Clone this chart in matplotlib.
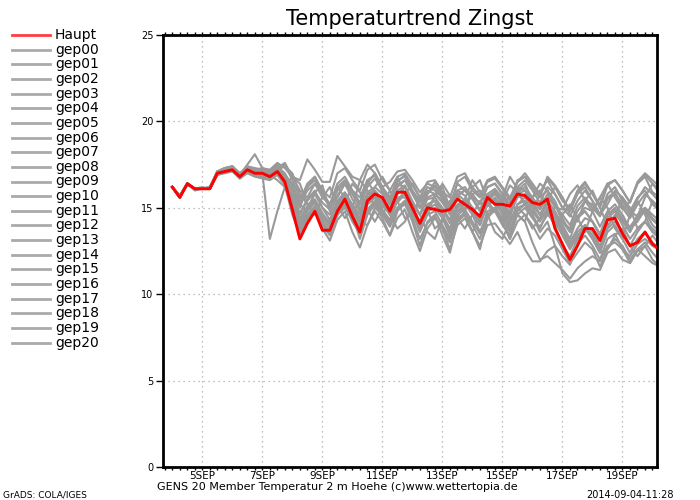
import numpy as np
import matplotlib.pyplot as plt
from matplotlib.lines import Line2D
from matplotlib.ticker import MultipleLocator

plt.rcParams['font.family'] = ['DejaVu Sans']

# 6-hourly steps from 2014-09-04 00Z, in days
steps = np.arange(66) * 0.25

day_ticks = [1, 3, 5, 7, 9, 11, 13, 15]
day_labels = ['5SEP', '7SEP', '9SEP', '11SEP', '13SEP', '15SEP', '17SEP', '19SEP']
y_ticks = [0, 5, 10, 15, 20, 25]

# control run
haupt = [16.2, 15.6, 16.4, 16.1, 16.1, 16.1, 17.0, 17.1, 17.2, 16.8, 17.2, 17.0, 17.0,
         16.8, 17.1, 16.5, 14.9, 13.2, 14.1, 14.8, 13.7, 13.7, 14.8, 15.5, 14.5, 13.6,
         15.4, 15.8, 15.6, 14.8, 15.9, 15.9, 15.0, 14.1, 15.0, 14.9, 14.8, 14.9, 15.5,
         15.2, 14.9, 14.5, 15.6, 15.2, 15.2, 15.1, 15.8, 15.7, 15.3, 15.2, 15.5, 13.8,
         12.9, 12.0, 12.8, 13.8, 13.8, 13.1, 14.3, 14.4, 13.5, 12.8, 13.0, 13.6, 12.9, 12.6]

# ensemble members gep00 .. gep20
gep = [
    [16.2, 15.6, 16.4, 16.1, 16.1, 16.1, 17.1, 17.2, 17.3, 16.9, 17.3, 17.1, 17.1,
     17.0, 17.3, 16.9, 15.5, 14.0, 14.8, 15.3, 14.5, 14.2, 15.3, 15.8, 15.0, 14.3, 15.8, 16.0,
     15.5, 15.0, 15.8, 16.2, 15.3, 14.6, 15.5, 15.6, 15.0, 14.3, 15.8, 15.4, 15.0, 14.2, 15.4, 15.8,
     15.2, 14.4, 15.9, 16.2, 15.6, 15.0, 15.8, 15.2, 14.2, 13.6, 14.5, 15.0, 14.8, 13.9, 14.8, 15.2,
     14.6, 13.8, 14.2, 14.9, 14.3, 13.9],
    [16.2, 15.7, 16.4, 16.1, 16.1, 16.2, 17.0, 17.2, 17.4, 16.9, 17.4, 17.2, 17.3,
     17.2, 17.6, 17.3, 16.8, 16.6, 17.8, 17.2, 16.5, 16.5, 18.0, 17.4, 16.8, 16.6, 17.5, 17.0,
     16.2, 16.5, 17.1, 17.2, 16.6, 15.9, 16.4, 16.2, 15.7, 15.2, 16.4, 16.0, 15.6, 15.3, 16.2, 16.4,
     15.8, 15.0, 16.2, 16.0, 15.2, 14.6, 15.4, 14.8, 14.0, 13.2, 14.5, 14.8, 14.2, 13.5, 14.6, 14.9,
     14.3, 13.9, 14.5, 15.0, 14.4, 14.0],
    [16.2, 15.6, 16.3, 16.1, 16.1, 16.1, 17.0, 17.1, 17.2, 16.8, 17.2, 17.0, 17.0,
     13.2, 14.8, 16.2, 15.8, 15.0, 16.2, 16.6, 15.8, 15.2, 16.4, 16.8, 16.0, 15.3, 16.2, 16.7,
     16.0, 15.5, 16.3, 16.6, 15.9, 15.3, 16.0, 15.8, 15.3, 14.6, 15.7, 16.0, 15.5, 14.8, 15.5, 15.9,
     15.4, 14.7, 15.8, 16.0, 15.5, 14.9, 15.6, 15.1, 14.6, 14.0, 15.1, 15.6, 15.0, 14.5, 15.5, 15.8,
     15.2, 14.6, 15.5, 16.2, 15.8, 15.3],
    [16.2, 15.7, 16.4, 16.1, 16.2, 16.1, 17.1, 17.3, 17.4, 16.9, 17.5, 18.1, 17.3,
     17.0, 17.5, 16.8, 15.2, 14.3, 15.0, 15.8, 15.0, 14.6, 15.7, 16.4, 15.5, 14.8, 16.4, 17.0,
     16.2, 15.4, 16.5, 16.9, 16.0, 15.0, 15.8, 16.3, 15.5, 14.9, 16.5, 16.8, 16.0, 15.6, 16.5, 16.7,
     16.1, 15.4, 16.5, 16.8, 16.2, 15.6, 16.8, 16.3, 15.6, 14.8, 15.9, 16.4, 15.8, 15.2, 16.4, 16.6,
     16.0, 15.3, 16.4, 16.9, 16.4, 16.0],
    [16.2, 15.6, 16.4, 16.0, 16.1, 16.1, 16.9, 17.1, 17.2, 16.7, 17.1, 16.9, 16.9,
     16.8, 17.0, 16.5, 15.0, 13.8, 14.5, 15.0, 14.2, 13.5, 14.8, 15.2, 14.6, 13.9, 15.2, 15.6,
     14.8, 14.0, 15.0, 15.4, 14.7, 13.6, 14.6, 14.8, 14.0, 13.2, 14.6, 14.9, 14.2, 13.5, 14.8, 15.0,
     14.4, 13.6, 15.0, 15.2, 14.5, 13.6, 14.2, 12.8, 11.2, 10.7, 10.8, 11.2, 11.5, 11.4, 12.4, 12.6,
     12.0, 11.8, 12.6, 12.2, 11.8, 11.6],
    [16.2, 15.6, 16.4, 16.1, 16.1, 16.1, 17.0, 17.2, 17.3, 16.8, 17.2, 17.0, 17.1,
     16.9, 17.2, 16.6, 15.4, 14.2, 15.0, 15.4, 14.6, 14.0, 15.1, 15.6, 14.8, 14.1, 15.6, 15.9,
     15.2, 14.6, 15.5, 15.9, 15.0, 14.0, 15.2, 15.4, 14.6, 13.8, 15.1, 15.5, 14.8, 14.0, 15.2, 15.4,
     14.6, 13.8, 14.6, 14.2, 13.0, 12.0, 12.2, 11.8, 11.4, 10.9, 11.5, 11.9, 12.2, 11.9, 12.8, 13.0,
     12.6, 12.2, 12.9, 13.2, 12.8, 12.5],
    [16.2, 15.7, 16.4, 16.1, 16.1, 16.1, 17.0, 17.1, 17.2, 16.7, 17.1, 16.9, 16.8,
     16.7, 17.1, 16.4, 14.8, 13.6, 14.4, 15.0, 14.0, 13.4, 14.6, 15.1, 14.2, 13.5, 14.7, 15.3,
     14.6, 13.9, 14.9, 15.2, 14.4, 13.2, 14.1, 14.5, 13.8, 12.6, 14.0, 14.4, 13.6, 12.8, 14.0, 14.1,
     13.5, 12.9, 13.6, 12.6, 11.9, 11.9, 12.5, 12.8, 12.2, 11.7, 12.9, 13.4, 12.8, 12.0, 13.2, 13.5,
     12.6, 11.8, 12.5, 12.8, 12.0, 11.6],
    [16.2, 15.6, 16.4, 16.1, 16.1, 16.2, 17.1, 17.3, 17.4, 17.0, 17.4, 17.3, 17.2,
     17.1, 17.4, 17.0, 16.2, 15.4, 16.4, 16.8, 16.0, 15.6, 17.0, 17.3, 16.6, 16.0, 17.2, 17.5,
     16.6, 16.0, 16.8, 17.0, 16.3, 15.6, 16.5, 16.6, 15.9, 15.6, 16.8, 17.0, 16.2, 15.7, 16.6, 16.8,
     16.2, 15.6, 16.5, 17.0, 16.4, 15.8, 16.7, 16.2, 15.4, 15.0, 16.0, 16.5, 15.8, 15.0, 16.3, 16.6,
     16.0, 15.3, 16.5, 17.0, 16.6, 16.2],
    [16.2, 15.6, 16.4, 16.1, 16.1, 16.1, 17.0, 17.2, 17.3, 16.8, 17.2, 17.1, 17.0,
     16.9, 17.2, 17.4, 17.0, 15.8, 15.2, 15.4, 14.6, 14.0, 14.6, 15.6, 15.0, 14.2, 14.0, 15.0,
     15.6, 14.6, 13.8, 14.2, 15.2, 14.6, 13.6, 13.2, 14.4, 15.2, 14.4, 13.8, 14.6, 15.4, 14.6, 13.6,
     13.2, 14.2, 15.0, 14.6, 13.8, 14.4, 15.4, 14.8, 13.6, 12.8, 13.2, 14.0, 13.2, 12.4, 12.6, 13.4,
     13.8, 12.8, 12.2, 12.8, 13.4, 12.8],
    [16.2, 15.7, 16.4, 16.1, 16.1, 16.1, 17.0, 17.1, 17.2, 16.8, 17.1, 16.9, 16.9,
     16.8, 17.0, 16.6, 15.0, 13.9, 14.6, 15.1, 14.4, 13.8, 14.9, 15.4, 14.6, 13.2, 14.6, 15.2,
     14.4, 13.4, 14.8, 15.3, 14.2, 12.8, 14.2, 14.6, 13.4, 12.4, 14.2, 14.6, 13.6, 12.6, 14.4, 14.9,
     14.2, 13.2, 14.8, 15.2, 14.6, 13.8, 14.8, 14.0, 12.8, 12.2, 13.2, 13.8, 13.2, 12.4, 13.6, 14.0,
     13.2, 12.4, 13.2, 13.6, 13.0, 12.6],
    [16.2, 15.6, 16.4, 16.1, 16.1, 16.1, 17.1, 17.2, 17.3, 16.9, 17.3, 17.1, 17.0,
     17.0, 17.3, 17.6, 16.8, 16.0, 15.6, 16.4, 15.8, 15.0, 16.2, 15.6, 14.8, 15.3, 16.6, 15.8,
     15.0, 15.4, 16.4, 16.2, 15.2, 14.6, 15.8, 16.5, 15.8, 15.0, 14.4, 15.5, 16.6, 15.9, 15.2, 14.8,
     15.6, 16.8, 16.1, 15.2, 14.6, 15.9, 16.6, 15.8, 15.0, 14.8, 15.8, 16.2, 15.4, 14.6, 15.2, 16.0,
     15.6, 14.8, 14.5, 15.6, 16.4, 15.8],
    [16.2, 15.6, 16.4, 16.1, 16.1, 16.1, 16.9, 17.0, 17.1, 16.7, 17.0, 16.8, 16.7,
     16.6, 16.9, 16.3, 14.6, 13.5, 14.2, 14.8, 13.8, 13.1, 14.3, 14.8, 13.6, 12.7, 14.0, 14.8,
     14.2, 13.4, 14.4, 14.9, 13.6, 12.5, 13.8, 14.4, 13.8, 13.0, 14.4, 14.7, 14.0, 13.2, 14.6, 14.8,
     14.0, 13.4, 14.6, 15.0, 14.4, 13.9, 14.6, 14.2, 13.4, 12.6, 13.4, 13.9, 13.4, 12.6, 13.8, 14.2,
     13.6, 12.8, 13.6, 14.2, 13.8, 13.4],
    [16.2, 15.7, 16.4, 16.1, 16.1, 16.2, 17.1, 17.2, 17.3, 16.9, 17.2, 17.1, 17.1,
     17.0, 17.2, 16.6, 15.4, 14.6, 15.4, 15.9, 15.3, 14.9, 16.0, 16.5, 15.8, 15.2, 16.5, 16.9,
     15.9, 15.2, 16.2, 16.6, 15.8, 15.0, 15.9, 16.2, 15.6, 14.9, 16.0, 15.7, 15.0, 14.4, 15.2, 15.6,
     15.0, 14.2, 15.2, 15.6, 15.0, 14.3, 15.0, 14.6, 14.2, 13.8, 14.8, 15.4, 15.2, 14.6, 15.8, 16.2,
     15.4, 14.8, 15.6, 16.0, 15.2, 14.8],
    [16.2, 15.6, 16.4, 16.1, 16.1, 16.1, 17.0, 17.1, 17.2, 16.8, 17.2, 17.0, 16.9,
     16.8, 17.3, 17.5, 16.6, 15.6, 16.2, 16.8, 15.9, 15.2, 15.6, 16.4, 15.8, 15.0, 15.4, 16.2,
     16.8, 16.0, 15.3, 15.8, 16.4, 15.6, 15.0, 15.6, 16.4, 15.7, 14.8, 15.0, 15.8, 16.0, 15.2, 14.8,
     15.4, 16.3, 15.9, 15.2, 15.6, 16.4, 16.0, 15.0, 14.9, 15.8, 16.3, 15.4, 14.8, 15.6, 16.4, 15.6,
     14.9, 15.4, 16.4, 16.8, 15.9, 15.6],
    [16.2, 15.6, 16.4, 16.1, 16.1, 16.1, 17.1, 17.3, 17.3, 16.9, 17.3, 17.2, 17.1,
     17.0, 17.3, 16.8, 16.0, 15.2, 16.0, 16.4, 15.6, 15.2, 16.2, 16.6, 16.0, 15.6, 16.6, 16.9,
     16.2, 15.6, 16.6, 16.8, 16.0, 15.4, 16.2, 16.0, 15.6, 15.0, 16.0, 16.2, 15.6, 14.9, 15.8, 16.1,
     15.6, 15.0, 16.2, 16.6, 16.0, 15.3, 16.2, 15.8, 15.0, 14.5, 15.4, 16.0, 15.4, 14.6, 15.6, 15.9,
     15.0, 14.4, 15.2, 15.8, 15.4, 15.0],
    [16.2, 15.7, 16.4, 16.1, 16.1, 16.1, 17.0, 17.1, 17.2, 16.8, 17.1, 17.0, 17.0,
     16.9, 17.0, 16.6, 15.3, 14.4, 15.1, 15.5, 14.7, 14.1, 15.2, 15.6, 15.1, 14.4, 15.4, 15.8,
     15.4, 14.6, 15.6, 15.6, 14.8, 14.0, 14.9, 15.2, 14.6, 13.6, 15.0, 15.3, 14.8, 14.0, 15.2, 15.5,
     14.8, 14.0, 15.2, 15.4, 14.8, 14.2, 14.9, 14.4, 13.6, 12.8, 13.6, 14.0, 13.6, 12.8, 13.9, 14.6,
     14.2, 13.6, 14.6, 15.0, 14.6, 14.2],
    [16.2, 15.6, 16.4, 16.1, 16.1, 16.1, 17.1, 17.2, 17.4, 16.9, 17.3, 17.2, 17.2,
     17.1, 17.4, 16.9, 16.4, 15.2, 14.8, 15.9, 16.3, 14.8, 14.6, 15.2, 16.4, 15.9, 14.9, 14.2,
     15.0, 16.0, 15.4, 14.4, 14.6, 15.6, 14.9, 13.8, 14.2, 15.4, 15.8, 14.6, 13.6, 14.6, 15.8, 15.2,
     14.2, 14.8, 16.0, 16.4, 15.4, 14.6, 15.4, 16.2, 15.6, 14.6, 14.2, 15.4, 16.0, 15.0, 14.0, 14.4,
     15.6, 15.0, 13.8, 14.2, 15.4, 14.8],
    [16.2, 15.6, 16.4, 16.1, 16.1, 16.1, 16.9, 17.1, 17.2, 16.7, 17.1, 16.9, 16.8,
     16.8, 17.0, 16.4, 14.9, 13.7, 14.4, 14.9, 14.2, 13.6, 14.6, 15.0, 14.4, 13.6, 14.9, 15.4,
     14.8, 14.2, 15.0, 15.4, 14.6, 13.8, 14.8, 15.0, 14.4, 13.4, 14.8, 15.2, 14.6, 13.6, 14.6, 15.0,
     14.2, 13.2, 14.2, 14.6, 14.0, 13.2, 13.8, 13.4, 12.6, 11.8, 12.4, 13.0, 12.6, 11.6, 12.6, 13.2,
     12.8, 12.0, 12.6, 13.0, 12.4, 11.9],
    [16.2, 15.7, 16.4, 16.1, 16.1, 16.2, 17.1, 17.3, 17.4, 17.0, 17.3, 17.2, 17.2,
     17.2, 17.4, 16.8, 15.7, 14.7, 15.5, 16.0, 15.0, 14.3, 15.4, 15.9, 15.2, 14.6, 15.9, 16.2,
     15.8, 15.2, 16.0, 16.3, 15.4, 14.6, 15.6, 15.8, 15.4, 14.8, 15.8, 16.0, 15.8, 15.2, 16.2, 16.4,
     15.8, 15.2, 16.6, 16.8, 16.2, 15.6, 16.0, 15.4, 14.4, 13.6, 14.4, 14.8, 14.2, 13.4, 14.6, 15.0,
     14.4, 13.6, 14.4, 14.8, 14.0, 13.6],
    [16.2, 15.6, 16.4, 16.1, 16.1, 16.1, 17.0, 17.2, 17.2, 16.8, 17.2, 17.0, 17.0,
     16.9, 16.6, 16.2, 16.8, 16.4, 15.2, 14.6, 15.6, 16.2, 15.2, 14.4, 15.0, 16.6, 16.0, 15.0,
     14.6, 15.4, 16.8, 15.8, 14.8, 15.2, 14.6, 15.8, 16.2, 15.0, 14.2, 14.8, 16.2, 16.6, 15.4, 14.8,
     15.4, 15.6, 14.6, 14.2, 15.6, 16.0, 14.8, 13.9, 14.6, 15.2, 14.4, 13.6, 14.8, 15.6, 15.0, 13.8,
     13.2, 14.6, 15.4, 14.6, 13.6, 13.4],
    [16.2, 15.6, 16.4, 16.1, 16.1, 16.1, 17.0, 17.2, 17.3, 16.8, 17.2, 17.1, 17.0,
     17.0, 17.2, 16.7, 15.2, 14.2, 14.9, 15.3, 14.6, 14.1, 15.2, 15.7, 15.0, 14.2, 15.2, 15.6,
     14.9, 14.3, 15.4, 15.8, 15.0, 14.2, 15.2, 15.4, 14.9, 14.1, 15.2, 15.4, 15.0, 14.4, 15.6, 16.0,
     15.4, 14.6, 15.6, 15.8, 15.2, 14.6, 15.2, 14.6, 13.8, 13.0, 13.8, 14.4, 14.2, 13.4, 14.4, 14.8,
     14.0, 13.2, 13.8, 14.2, 13.6, 13.2],
]
member_names = ['gep%02d' % k for k in range(21)]

W, H = 700, 500
fig = plt.figure(figsize=(7, 5), dpi=100)
ax = fig.add_axes([163 / W, 33 / H, 494 / W, 432 / H])

for vals in gep:
    ax.plot(steps, vals, color='#999999', lw=1.5, zorder=2)
ax.plot(steps, haupt, color='#ff0000', lw=2.1, zorder=3)

ax.set_xlim(-0.31, 16.15)
ax.set_ylim(0, 25)
ax.set_xticks(day_ticks)
ax.set_xticklabels(day_labels, fontsize=7.5)
ax.xaxis.set_minor_locator(MultipleLocator(0.25))
ax.set_yticks(y_ticks)
ax.set_yticklabels([str(v) for v in y_ticks], fontsize=7)
ax.tick_params(axis='x', which='both', direction='out', length=2, width=1,
               top=True, pad=1)
ax.tick_params(axis='y', direction='out', length=5, width=1, pad=2)
ax.grid(True, color='#aaaaaa', linestyle=(0, (1, 3)), linewidth=0.9)
for s in ax.spines.values():
    s.set_linewidth(2)

# legend at the left
names = ['Haupt'] + member_names
for k, name in enumerate(names):
    yy = 1 - (35 + 14.65 * k) / H
    col = '#ff3c3c' if k == 0 else '#aaaaaa'
    fig.add_artist(Line2D([12 / W, 50 / W], [yy, yy], color=col, lw=2))
    fig.text(55 / W, yy, name, va='center', ha='left', fontsize=10)

fig.text(410 / W, 1 - 19 / H, 'Temperaturtrend Zingst', ha='center', va='center',
         fontsize=15)
fig.text(157 / W, 1 - 487 / H,
         'GENS 20 Member Temperatur 2 m Hoehe (c)www.wettertopia.de',
         ha='left', va='center', fontsize=8)
fig.text(3 / W, 1 - 495 / H, 'GrADS: COLA/IGES', ha='left', va='center', fontsize=6.5)
fig.text(674 / W, 1 - 495 / H, '2014-09-04-11:28', ha='right', va='center', fontsize=7)

fig.savefig('out.png', dpi=100, facecolor='white')
